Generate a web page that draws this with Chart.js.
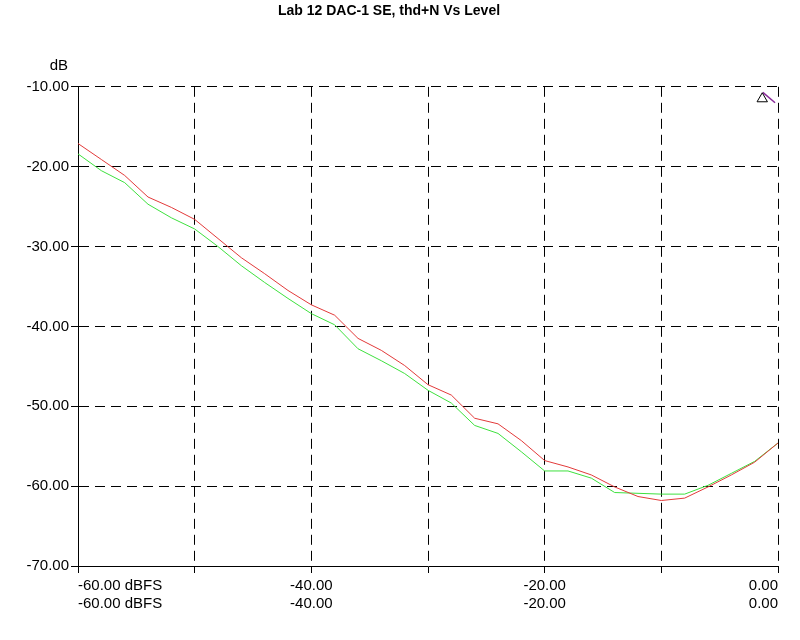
<!DOCTYPE html>
<html>
<head>
<meta charset="utf-8">
<script src="https://cdn.jsdelivr.net/npm/chart.js@4.4.0/dist/chart.umd.min.js"></script>
<style>
  html, body { margin: 0; padding: 0; background: #fff; }
  #wrap { width: 800px; height: 640px; position: relative; }
</style>
</head>
<body>
<div id="wrap"><canvas id="c" width="800" height="640"></canvas></div>
<script>
const titleText = 'Lab 12 DAC-1 SE, thd+N Vs Level';
const yUnit = 'dB';
const levels = [-60,-58,-56,-54,-52,-50,-48,-46,-44,-42,-40,-38,-36,-34,-32,-30,-28,-26,-24,-22,-20,-18,-16,-14,-12,-10,-8,-6,-4,-2,0];
const redSeries = [-17.1,-19.1,-21.1,-23.8,-25.1,-26.6,-29.0,-31.4,-33.4,-35.5,-37.3,-38.6,-41.5,-43.0,-44.9,-47.3,-48.6,-51.5,-52.2,-54.3,-56.8,-57.6,-58.6,-60.1,-61.3,-61.8,-61.5,-60.1,-58.6,-57.0,-54.6];
const greenSeries = [-18.4,-20.5,-22.0,-24.7,-26.4,-27.8,-30.0,-32.4,-34.5,-36.5,-38.4,-39.8,-42.8,-44.3,-45.9,-48.0,-49.6,-52.4,-53.4,-55.7,-58.1,-58.1,-59.0,-60.8,-60.9,-61.0,-61.0,-59.9,-58.4,-56.9,-54.6];
const xTickLabels = {'-60': '-60.00 dBFS', '-40': '-40.00', '-20': '-20.00', '0': '0.00'};
const cursorX = [-1.35];
const cursorY = [-11.5];
const cursorLineX = [-1.3, -0.25];
const cursorLineY = [-10.7, -12.0];

const FONT = '"Liberation Sans", Arial, sans-serif';

const dBLabel = {
  id: 'dBLabel',
  afterDraw(chart) {
    const ctx = chart.ctx;
    ctx.save();
    ctx.fillStyle = '#000';
    ctx.font = '15px ' + FONT;
    ctx.textAlign = 'right';
    ctx.textBaseline = 'middle';
    ctx.fillText(yUnit, 68, 66);
    ctx.restore();
  }
};

new Chart(document.getElementById('c'), {
  type: 'line',
  data: {
    datasets: [
      {
        label: 'cursor',
        data: cursorX.map((x, i) => ({x, y: cursorY[i]})),
        showLine: false,
        pointStyle: 'triangle',
        pointRadius: 6,
        pointBorderWidth: 1,
        pointBorderColor: '#000',
        pointBackgroundColor: 'rgba(0,0,0,0)',
        order: 0
      },
      {
        label: 'cursorLine',
        data: cursorLineX.map((x, i) => ({x, y: cursorLineY[i]})),
        borderColor: '#8a2a9a',
        borderWidth: 1.5,
        pointRadius: 0,
        order: 0
      },
      {
        label: 'Red',
        data: levels.map((x, i) => ({x, y: redSeries[i]})),
        borderColor: '#e23a3a',
        borderWidth: 1,
        pointRadius: 0,
        tension: 0,
        order: 1
      },
      {
        label: 'Green',
        data: levels.map((x, i) => ({x, y: greenSeries[i]})),
        borderColor: '#3ee03e',
        borderWidth: 1,
        pointRadius: 0,
        tension: 0,
        order: 2
      }
    ]
  },
  options: {
    responsive: false,
    animation: false,
    devicePixelRatio: 1,
    layout: { padding: { left: 0, right: 22, top: 0, bottom: 0 } },
    plugins: {
      legend: { display: false },
      tooltip: { enabled: false },
      title: {
        display: true,
        text: titleText,
        color: '#000',
        font: { family: FONT, size: 14, weight: 'bold' },
        padding: { top: 3, bottom: 67 }
      }
    },
    scales: {
      x: {
        type: 'linear',
        min: -60,
        max: 0,
        afterBuildTicks(scale) {
          scale.ticks = [-60,-50,-40,-30,-20,-10,0].map(v => ({value: v}));
        },
        afterFit(scale) { scale.height = 74; },
        ticks: {
          autoSkip: false,
          maxRotation: 0,
          align: 'inner',
          color: '#000',
          padding: 4,
          font: { family: FONT, size: 15 },
          callback(v) {
            const l = xTickLabels[String(v)];
            return l ? [l, l] : '';
          }
        },
        grid: {
          color: '#000',
          lineWidth: 1,
          tickLength: 7,
          tickColor: '#000',
          tickBorderDash: []
        },
        border: { display: true, color: '#000', width: 1, dash: [10, 6] }
      },
      y: {
        type: 'linear',
        min: -70,
        max: -10,
        afterBuildTicks(scale) {
          scale.ticks = [-70,-60,-50,-40,-30,-20,-10].map(v => ({value: v}));
        },
        afterFit(scale) { scale.width = 78; },
        ticks: {
          color: '#000',
          padding: 2,
          font: { family: FONT, size: 15 },
          callback(v) { return v.toFixed(2); }
        },
        grid: {
          color: '#000',
          lineWidth: 1,
          tickLength: 7,
          tickColor: '#000',
          tickBorderDash: []
        },
        border: { display: true, color: '#000', width: 1, dash: [10, 6] }
      }
    }
  },
  plugins: [dBLabel]
});
</script>
</body>
</html>
